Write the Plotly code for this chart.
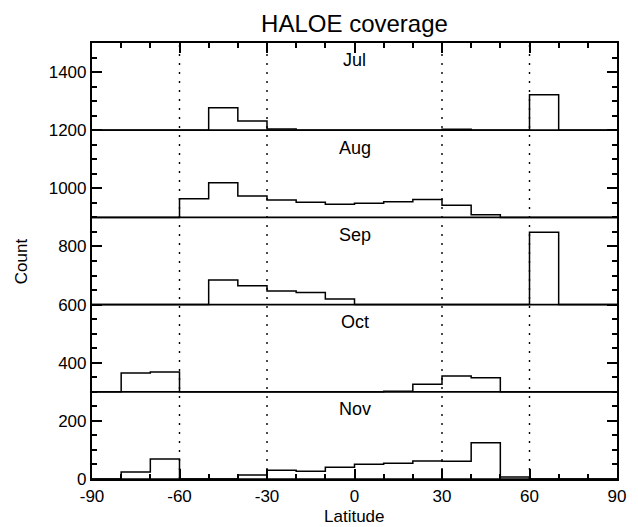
import plotly.graph_objects as go

# Latitude bin edges (10-degree bins from -90 to 90)
bin_edges = list(range(-90, 91, 10))

months = ["Jul", "Aug", "Sep", "Oct", "Nov"]
offsets = [1200, 900, 600, 300, 0]

# Counts per 10-degree latitude bin (-90..-80, ..., 80..90)
jul_counts = [0, 0, 0, 0, 77, 32, 4, 0, 0, 0, 0, 0, 3, 0, 0, 122, 0, 0]
aug_counts = [0, 0, 0, 64, 119, 74, 60, 52, 45, 49, 54, 62, 42, 9, 0, 0, 0, 0]
sep_counts = [0, 0, 0, 0, 85, 65, 47, 42, 19, 0, 0, 0, 0, 0, 0, 249, 0, 0]
oct_counts = [0, 65, 68, 0, 0, 0, 0, 0, 0, 0, 2, 26, 54, 48, 0, 0, 0, 0]
nov_counts = [0, 24, 69, 0, 0, 14, 30, 27, 40, 51, 54, 62, 61, 125, 7, 0, 0, 0]
all_counts = [jul_counts, aug_counts, sep_counts, oct_counts, nov_counts]

x_ticks = [-90, -60, -30, 0, 30, 60, 90]
y_ticks = [0, 200, 400, 600, 800, 1000, 1200, 1400]
dotted_lats = [-60, -30, 30, 60]

FONT = "Liberation Sans, Arial, Helvetica, sans-serif"
FS = 17

# The page body has an 8px default margin, so the figure is laid out in
# coordinates shifted by 8px from the screenshot.
W, H = 630, 519
L, R, T, B = 84, 12, 35, 48
PW, PH = W - L - R, H - T - B

fig = go.Figure()

# dotted vertical reference lines
for lat in dotted_lats:
    fig.add_trace(go.Scatter(
        x=[lat, lat], y=[0, 1500], mode="lines",
        line=dict(color="black", width=1.4, dash="2px,7px"),
        showlegend=False, hoverinfo="skip"))

for name, off, counts in zip(months, offsets, all_counts):
    # baseline
    fig.add_trace(go.Scatter(
        x=[bin_edges[0], bin_edges[-1]], y=[off, off], mode="lines",
        line=dict(color="black", width=1.7), showlegend=False, hoverinfo="skip"))
    # histogram outline
    ys = [off] + [off + c for c in counts] + [off + counts[-1], off]
    xs = [bin_edges[0]] + list(bin_edges) + [bin_edges[-1]]
    fig.add_trace(go.Scatter(
        x=xs, y=ys, mode="lines", line=dict(color="black", width=1.5, shape="hv"),
        showlegend=False, hoverinfo="skip"))
    fig.add_annotation(x=0, y=off + 240, text=name, showarrow=False,
                       font=dict(family=FONT, size=18, color="black"),
                       xanchor="center", yanchor="middle")

# axis titles placed as annotations for precise positioning
fig.add_annotation(x=0.5, y=-(508 - (H - B)) / PH, xref="paper", yref="paper",
                   text="Latitude", showarrow=False, xanchor="center", yanchor="middle",
                   borderpad=0,
                   font=dict(family=FONT, size=17, color="black"))
fig.add_annotation(x=-(L - 12) / PW, y=0.5, xref="paper", yref="paper",
                   text="Count", showarrow=False, textangle=-90,
                   xanchor="center", yanchor="middle", borderpad=0,
                   font=dict(family=FONT, size=17, color="black"))

fig.update_layout(
    width=W, height=H,
    margin=dict(l=L, r=R, t=T, b=B),
    paper_bgcolor="white", plot_bgcolor="white",
    title=dict(text="HALOE coverage", x=0.5, xref="paper", xanchor="center",
               y=1 - 16 / H, yanchor="middle",
               font=dict(family=FONT, size=24, color="black")),
    font=dict(family=FONT, size=FS, color="black"),
    xaxis=dict(range=[-90, 90], tickvals=x_ticks, ticktext=[str(v) for v in x_ticks],
               ticks="inside", ticklen=10, tickwidth=1.6, tickcolor="black",
               minor=dict(dtick=10, ticks="inside", ticklen=5, tickwidth=1.6, tickcolor="black"),
               showline=True, linecolor="black", linewidth=2.2, mirror="ticks",
               showgrid=False, zeroline=False,
               tickfont=dict(size=FS)),
    yaxis=dict(range=[0, 1500], tickvals=y_ticks,
               ticks="inside", ticklen=10, tickwidth=1.6, tickcolor="black",
               minor=dict(dtick=50, ticks="inside", ticklen=5, tickwidth=1.6, tickcolor="black"),
               showline=True, linecolor="black", linewidth=2.2, mirror="ticks",
               showgrid=False, zeroline=False,
               tickfont=dict(size=FS)),
)

fig.write_html("out.html")
